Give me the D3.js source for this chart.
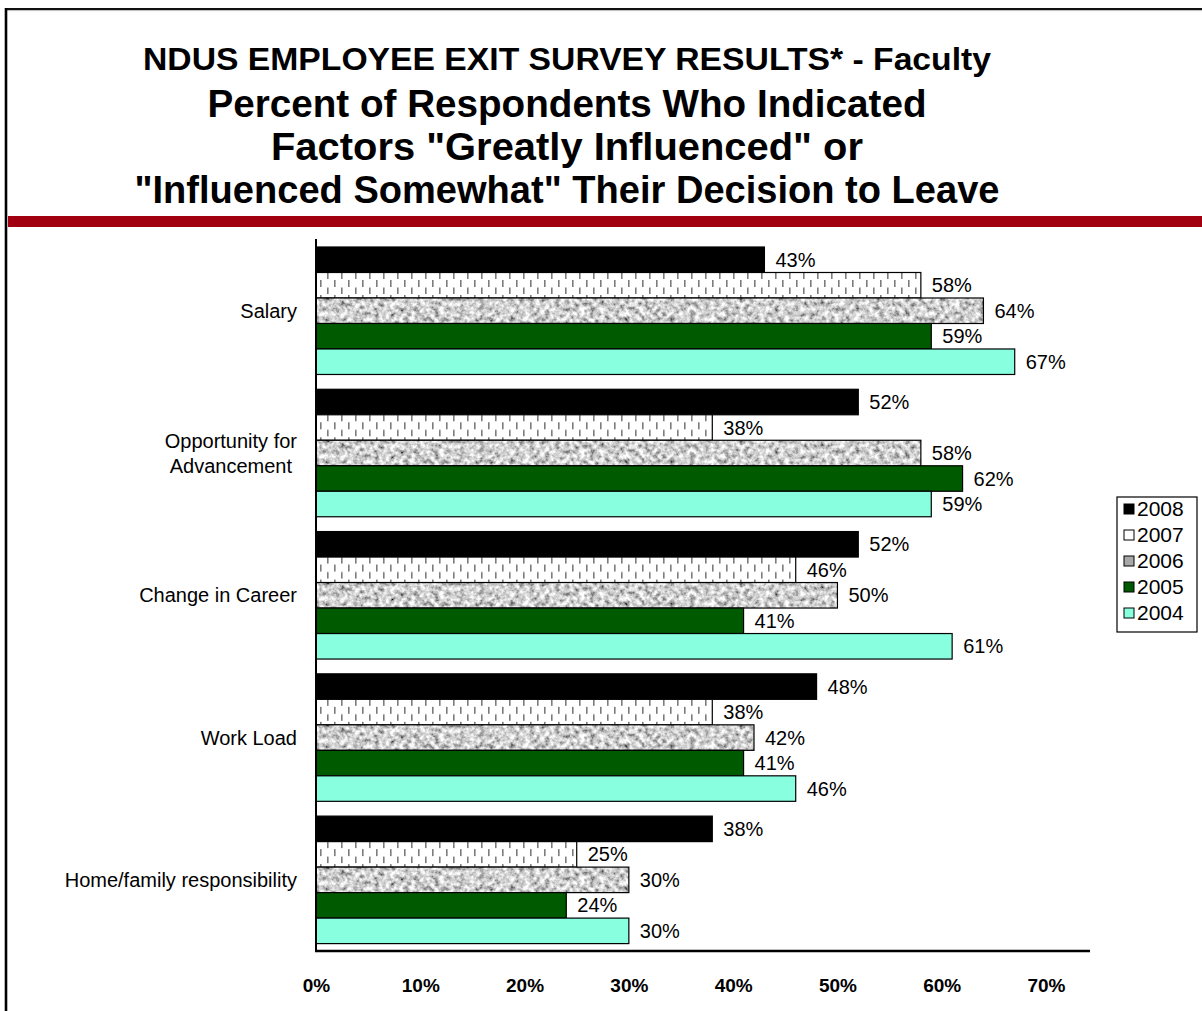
<!DOCTYPE html>
<html>
<head>
<meta charset="utf-8">
<script src="https://cdn.jsdelivr.net/npm/d3@7"></script>
<style>
  html, body { margin: 0; padding: 0; background: #fff; }
  svg { display: block; }
  text { font-family: "Liberation Sans", Arial, sans-serif; }
</style>
</head>
<body>
<svg id="chart" width="1202" height="1011"></svg>
<script>
// Survey factors (top to bottom) and the share of respondents per year
const categories = ["Salary", "Opportunity for\nAdvancement", "Change in Career", "Work Load", "Home/family responsibility"];
const years = ["2008", "2007", "2006", "2005", "2004"];
const values2008 = [0.43, 0.52, 0.52, 0.48, 0.38];
const values2007 = [0.58, 0.38, 0.46, 0.38, 0.25];
const values2006 = [0.64, 0.58, 0.50, 0.42, 0.30];
const values2005 = [0.59, 0.62, 0.41, 0.41, 0.24];
const values2004 = [0.67, 0.59, 0.61, 0.46, 0.30];
const tickValues = [0, 0.1, 0.2, 0.3, 0.4, 0.5, 0.6, 0.7];
const titleLines = [
  "NDUS EMPLOYEE EXIT SURVEY RESULTS* - Faculty",
  "Percent of Respondents Who Indicated",
  "Factors \"Greatly Influenced\" or",
  "\"Influenced Somewhat\" Their Decision to Leave"
];

const seriesValues = { "2008": values2008, "2007": values2007, "2006": values2006, "2005": values2005, "2004": values2004 };

const svg = d3.select("#chart");
const defs = svg.append("defs");

// dashed white fill for 2007
const dash = defs.append("pattern")
  .attr("id", "dash07").attr("patternUnits", "userSpaceOnUse")
  .attr("width", 14).attr("height", 15).attr("x", 316).attr("y", 272);
dash.append("rect").attr("width", 14).attr("height", 15).attr("fill", "#fff");
dash.append("rect").attr("x", 4).attr("y", 1).attr("width", 1.6).attr("height", 7).attr("fill", "#7c7c7c");
dash.append("rect").attr("x", 11).attr("y", 8.5).attr("width", 1.6).attr("height", 7).attr("fill", "#7c7c7c");

// granite texture for 2006
const granite = defs.append("filter").attr("id", "granite")
  .attr("x", 0).attr("y", 0).attr("width", 1).attr("height", 1);
granite.append("feTurbulence").attr("type", "fractalNoise")
  .attr("baseFrequency", 0.2).attr("numOctaves", 3).attr("seed", 7).attr("result", "noise");
granite.append("feColorMatrix").attr("in", "noise").attr("type", "matrix")
  .attr("values", "1.6 0 0 0 -0.17  1.6 0 0 0 -0.17  1.6 0 0 0 -0.17  0 0 0 0 1")
  .attr("result", "gray");
granite.append("feComposite").attr("in", "gray").attr("in2", "SourceGraphic").attr("operator", "in");

const fills = { "2008": "#000000", "2007": "url(#dash07)", "2006": "#a8a8a8", "2005": "#005a00", "2004": "#88ffde" };

// page frame: top rule and left rule
svg.append("line").attr("x1", 6).attr("x2", 1202).attr("y1", 9).attr("y2", 9)
  .attr("stroke", "#111").attr("stroke-width", 2.2);
svg.append("line").attr("x1", 6).attr("x2", 1202).attr("y1", 10.6).attr("y2", 10.6)
  .attr("stroke", "#bbb").attr("stroke-width", 1);
svg.append("line").attr("x1", 6).attr("x2", 6).attr("y1", 8).attr("y2", 1011)
  .attr("stroke", "#000").attr("stroke-width", 2.6);

// title
const titleSpec = [
  { size: 32, y: 70, len: 848 },
  { size: 39, y: 117, len: 719 },
  { size: 39, y: 160, len: 592 },
  { size: 39, y: 203, len: 865 }
];
svg.append("g").selectAll("text").data(titleLines).join("text")
  .attr("x", 567).attr("y", (d, i) => titleSpec[i].y)
  .attr("text-anchor", "middle").attr("font-weight", "bold")
  .attr("font-size", (d, i) => titleSpec[i].size)
  .attr("textLength", (d, i) => titleSpec[i].len).attr("lengthAdjust", "spacingAndGlyphs")
  .text(d => d);

// red divider
svg.append("rect").attr("x", 8).attr("y", 216).attr("width", 1194).attr("height", 11).attr("fill", "#a00010");

// scales
const x = d3.scaleLinear().domain([0, 0.7]).range([316, 1046]);
const y = d3.scaleBand().domain(categories).range([239.6, 951]).paddingInner(0.104).paddingOuter(0.052);
const yInner = d3.scaleBand().domain(years).range([0, y.bandwidth()]);

// bars
const groups = svg.append("g").selectAll("g").data(categories).join("g")
  .attr("transform", d => `translate(0,${y(d)})`);

groups.each(function (cat, ci) {
  const g = d3.select(this);
  years.forEach(yr => {
    const v = seriesValues[yr][ci];
    const by = yInner(yr), bh = yInner.bandwidth();
    if (yr === "2006") {
      g.append("rect").attr("x", x(0)).attr("y", by).attr("width", x(v) - x(0)).attr("height", bh)
        .attr("fill", "#000").attr("filter", "url(#granite)");
      g.append("rect").attr("x", x(0)).attr("y", by).attr("width", x(v) - x(0)).attr("height", bh)
        .attr("fill", "none").attr("stroke", "#000").attr("stroke-width", 1.2);
    } else {
      g.append("rect").attr("x", x(0)).attr("y", by).attr("width", x(v) - x(0)).attr("height", bh)
        .attr("fill", fills[yr]).attr("stroke", "#000").attr("stroke-width", 1.2);
    }
    g.append("text").attr("x", x(v) + 11).attr("y", by + bh / 2 + 7)
      .attr("font-size", 20).attr("fill", "#000")
      .text(d3.format(".0%")(v));
  });
});

// category labels
const catLabels = svg.append("g").selectAll("text").data(categories).join("text")
  .attr("font-size", 20).attr("fill", "#000");
catLabels.each(function (d) {
  const t = d3.select(this);
  const lines = d.split("\n");
  const cy = y(d) + y.bandwidth() / 2;
  if (lines.length === 1) {
    t.attr("x", 297).attr("y", cy + 7).attr("text-anchor", "end").text(d);
  } else {
    lines.forEach((ln, i) => {
      t.append("tspan").attr("y", cy + 7 + (i - (lines.length - 1) / 2) * 25).text(ln);
    });
    // centre lines on the widest one, right edge at 297
    let w = 0;
    t.selectAll("tspan").each(function () { w = Math.max(w, this.getComputedTextLength()); });
    t.attr("text-anchor", "middle");
    t.selectAll("tspan").attr("x", 297 - w / 2);
  }
});

// axes lines
svg.append("line").attr("x1", x(0)).attr("x2", x(0)).attr("y1", 239).attr("y2", 951)
  .attr("stroke", "#000").attr("stroke-width", 2);
svg.append("line").attr("x1", x(0) - 1).attr("x2", 1090).attr("y1", 951).attr("y2", 951)
  .attr("stroke", "#000").attr("stroke-width", 2.4);

// x tick labels
const xAxis = d3.axisBottom(x).tickValues(tickValues).tickFormat(d3.format(".0%")).tickSize(0).tickPadding(0);
const xg = svg.append("g").attr("transform", "translate(0,978)").call(xAxis);
xg.select(".domain").remove();
xg.selectAll("text").attr("font-size", 19).attr("font-weight", "bold").attr("fill", "#000")
  .attr("font-family", "'Liberation Sans', Arial, sans-serif");

// legend
const legend = svg.append("g");
legend.append("rect").attr("x", 1117).attr("y", 497).attr("width", 80).attr("height", 135)
  .attr("fill", "#fff").attr("stroke", "#000").attr("stroke-width", 1.2);
years.forEach((yr, i) => {
  const ly = 509 + i * 26;
  if (yr === "2006") {
    legend.append("rect").attr("x", 1124).attr("y", ly - 5).attr("width", 10).attr("height", 10)
      .attr("fill", fills[yr]);
    legend.append("rect").attr("x", 1124).attr("y", ly - 5).attr("width", 10).attr("height", 10)
      .attr("fill", "none").attr("stroke", "#000").attr("stroke-width", 1);
  } else {
    legend.append("rect").attr("x", 1124).attr("y", ly - 5).attr("width", 10).attr("height", 10)
      .attr("fill", yr === "2007" ? "#fff" : fills[yr]).attr("stroke", "#000").attr("stroke-width", 1);
  }
  legend.append("text").attr("x", 1137).attr("y", ly + 7).attr("font-size", 21).text(yr);
});
</script>
</body>
</html>
